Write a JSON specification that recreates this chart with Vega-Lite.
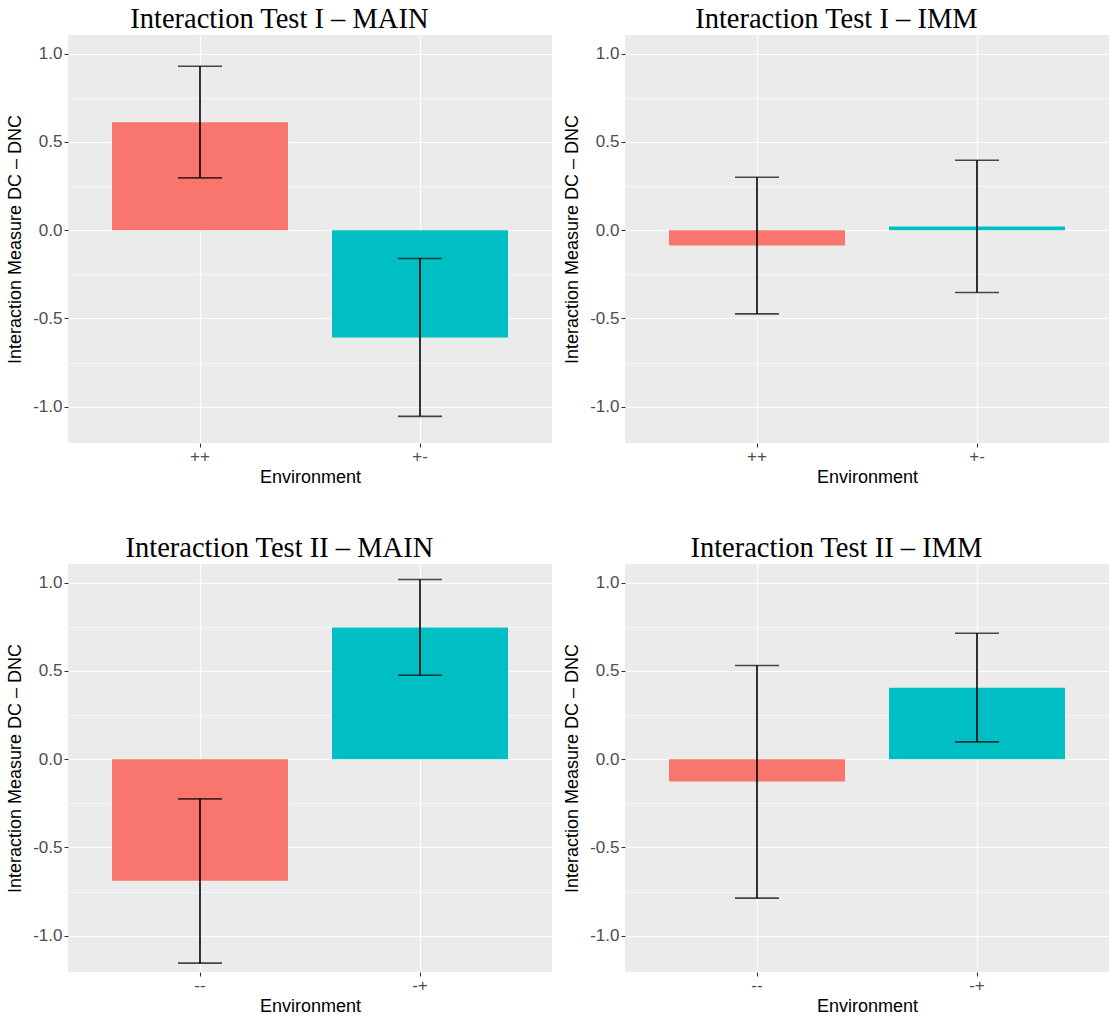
{
  "$schema": "https://vega.github.io/schema/vega-lite/v6.json",
  "background": "white",
  "padding": {"left": 6, "top": 4, "right": 0, "bottom": 0},
  "data": {"values": [
    {"panel": "I-MAIN", "Environment": "++", "value": 0.611, "lower": 0.296, "upper": 0.928},
    {"panel": "I-MAIN", "Environment": "+-", "value": -0.607, "lower": -1.054, "upper": -0.160},
    {"panel": "I-IMM", "Environment": "++", "value": -0.087, "lower": -0.474, "upper": 0.300},
    {"panel": "I-IMM", "Environment": "+-", "value": 0.021, "lower": -0.353, "upper": 0.396},
    {"panel": "II-MAIN", "Environment": "--", "value": -0.689, "lower": -1.155, "upper": -0.225},
    {"panel": "II-MAIN", "Environment": "-+", "value": 0.745, "lower": 0.475, "upper": 1.017},
    {"panel": "II-IMM", "Environment": "--", "value": -0.126, "lower": -0.787, "upper": 0.530},
    {"panel": "II-IMM", "Environment": "-+", "value": 0.404, "lower": 0.098, "upper": 0.713}
  ]},
  "config": {
    "view": {"fill": "#EBEBEB", "stroke": null},
    "axis": {
      "domain": false,
      "gridColor": "#FFFFFF",
      "gridWidth": 1.2,
      "tickColor": "#333333",
      "tickSize": 4,
      "tickWidth": 1.1,
      "labelFont": "Liberation Sans",
      "labelFontSize": 17,
      "labelColor": "#4D4D4D",
      "labelPadding": 2,
      "titleFont": "Liberation Sans",
      "titleFontSize": 18,
      "titleFontWeight": "normal",
      "titleColor": "#000000"
    },
    "title": {"font": "Liberation Serif", "fontSize": 28.5, "fontWeight": "normal", "color": "#000000", "anchor": "middle", "frame": "bounds", "offset": 2}
  },
  "spacing": 47,
  "resolve": {"scale": {"x": "independent"}},
  "vconcat": [
    {
      "spacing": 11,
      "hconcat": [
        {
          "title": "Interaction Test I – MAIN",
          "width": 484, "height": 408,
          "transform": [{"filter": "datum.panel == 'I-MAIN'"}],
          "encoding": {
            "x": {"field": "Environment", "type": "nominal", "sort": ["++", "+-"],
                  "scale": {"paddingInner": 0.2, "paddingOuter": 0.2},
                  "axis": {"labelAngle": 0, "grid": true, "bandPosition": 0.5, "labelPadding": 1, "titlePadding": 4}}
          },
          "layer": [
            {"mark": {"type": "bar"},
             "encoding": {
               "y": {"field": "value", "type": "quantitative", "title": "Interaction Measure  DC – DNC",
                     "scale": {"domain": [-1.205, 1.105], "nice": false, "zero": false},
                     "axis": {"values": [-1, -0.75, -0.5, -0.25, 0, 0.25, 0.5, 0.75, 1],
                              "labelExpr": "abs(round(datum.value*4)) % 2 == 1 ? '' : (datum.value < 0 ? '-' : '') + format(abs(datum.value), '.1f')",
                              "gridWidth": {"condition": {"test": "abs(round(datum.value*4)) % 2 == 1", "value": 0.6}, "value": 1.2},
                              "tickOpacity": {"condition": {"test": "abs(round(datum.value*4)) % 2 == 1", "value": 0}, "value": 1},
                              "titlePadding": 8}},
               "color": {"field": "Environment", "type": "nominal", "legend": null,
                         "scale": {"domain": ["++", "+-", "--", "-+"], "range": ["#F8766D", "#00BFC4", "#F8766D", "#00BFC4"]}}
             }},
            {"mark": {"type": "rule", "color": "#000000", "strokeWidth": 1.6},
             "encoding": {"y": {"field": "lower", "type": "quantitative"}, "y2": {"field": "upper"}}},
            {"mark": {"type": "tick", "color": "#000000", "size": 44, "thickness": 1.6},
             "encoding": {"y": {"field": "lower", "type": "quantitative"}}},
            {"mark": {"type": "tick", "color": "#000000", "size": 44, "thickness": 1.6},
             "encoding": {"y": {"field": "upper", "type": "quantitative"}}}
          ]
        },
        {
          "title": "Interaction Test I – IMM",
          "width": 484, "height": 408,
          "transform": [{"filter": "datum.panel == 'I-IMM'"}],
          "encoding": {
            "x": {"field": "Environment", "type": "nominal", "sort": ["++", "+-"],
                  "scale": {"paddingInner": 0.2, "paddingOuter": 0.2},
                  "axis": {"labelAngle": 0, "grid": true, "bandPosition": 0.5, "labelPadding": 1, "titlePadding": 4}}
          },
          "layer": [
            {"mark": {"type": "bar"},
             "encoding": {
               "y": {"field": "value", "type": "quantitative", "title": "Interaction Measure  DC – DNC",
                     "scale": {"domain": [-1.205, 1.105], "nice": false, "zero": false},
                     "axis": {"values": [-1, -0.75, -0.5, -0.25, 0, 0.25, 0.5, 0.75, 1],
                              "labelExpr": "abs(round(datum.value*4)) % 2 == 1 ? '' : (datum.value < 0 ? '-' : '') + format(abs(datum.value), '.1f')",
                              "gridWidth": {"condition": {"test": "abs(round(datum.value*4)) % 2 == 1", "value": 0.6}, "value": 1.2},
                              "tickOpacity": {"condition": {"test": "abs(round(datum.value*4)) % 2 == 1", "value": 0}, "value": 1},
                              "titlePadding": 8}},
               "color": {"field": "Environment", "type": "nominal", "legend": null,
                         "scale": {"domain": ["++", "+-", "--", "-+"], "range": ["#F8766D", "#00BFC4", "#F8766D", "#00BFC4"]}}
             }},
            {"mark": {"type": "rule", "color": "#000000", "strokeWidth": 1.6},
             "encoding": {"y": {"field": "lower", "type": "quantitative"}, "y2": {"field": "upper"}}},
            {"mark": {"type": "tick", "color": "#000000", "size": 44, "thickness": 1.6},
             "encoding": {"y": {"field": "lower", "type": "quantitative"}}},
            {"mark": {"type": "tick", "color": "#000000", "size": 44, "thickness": 1.6},
             "encoding": {"y": {"field": "upper", "type": "quantitative"}}}
          ]
        }
      ]
    },
    {
      "spacing": 11,
      "hconcat": [
        {
          "title": "Interaction Test II – MAIN",
          "width": 484, "height": 408,
          "transform": [{"filter": "datum.panel == 'II-MAIN'"}],
          "encoding": {
            "x": {"field": "Environment", "type": "nominal", "sort": ["--", "-+"],
                  "scale": {"paddingInner": 0.2, "paddingOuter": 0.2},
                  "axis": {"labelAngle": 0, "grid": true, "bandPosition": 0.5, "labelPadding": 1, "titlePadding": 4}}
          },
          "layer": [
            {"mark": {"type": "bar"},
             "encoding": {
               "y": {"field": "value", "type": "quantitative", "title": "Interaction Measure  DC – DNC",
                     "scale": {"domain": [-1.205, 1.105], "nice": false, "zero": false},
                     "axis": {"values": [-1, -0.75, -0.5, -0.25, 0, 0.25, 0.5, 0.75, 1],
                              "labelExpr": "abs(round(datum.value*4)) % 2 == 1 ? '' : (datum.value < 0 ? '-' : '') + format(abs(datum.value), '.1f')",
                              "gridWidth": {"condition": {"test": "abs(round(datum.value*4)) % 2 == 1", "value": 0.6}, "value": 1.2},
                              "tickOpacity": {"condition": {"test": "abs(round(datum.value*4)) % 2 == 1", "value": 0}, "value": 1},
                              "titlePadding": 8}},
               "color": {"field": "Environment", "type": "nominal", "legend": null,
                         "scale": {"domain": ["++", "+-", "--", "-+"], "range": ["#F8766D", "#00BFC4", "#F8766D", "#00BFC4"]}}
             }},
            {"mark": {"type": "rule", "color": "#000000", "strokeWidth": 1.6},
             "encoding": {"y": {"field": "lower", "type": "quantitative"}, "y2": {"field": "upper"}}},
            {"mark": {"type": "tick", "color": "#000000", "size": 44, "thickness": 1.6},
             "encoding": {"y": {"field": "lower", "type": "quantitative"}}},
            {"mark": {"type": "tick", "color": "#000000", "size": 44, "thickness": 1.6},
             "encoding": {"y": {"field": "upper", "type": "quantitative"}}}
          ]
        },
        {
          "title": "Interaction Test II – IMM",
          "width": 484, "height": 408,
          "transform": [{"filter": "datum.panel == 'II-IMM'"}],
          "encoding": {
            "x": {"field": "Environment", "type": "nominal", "sort": ["--", "-+"],
                  "scale": {"paddingInner": 0.2, "paddingOuter": 0.2},
                  "axis": {"labelAngle": 0, "grid": true, "bandPosition": 0.5, "labelPadding": 1, "titlePadding": 4}}
          },
          "layer": [
            {"mark": {"type": "bar"},
             "encoding": {
               "y": {"field": "value", "type": "quantitative", "title": "Interaction Measure  DC – DNC",
                     "scale": {"domain": [-1.205, 1.105], "nice": false, "zero": false},
                     "axis": {"values": [-1, -0.75, -0.5, -0.25, 0, 0.25, 0.5, 0.75, 1],
                              "labelExpr": "abs(round(datum.value*4)) % 2 == 1 ? '' : (datum.value < 0 ? '-' : '') + format(abs(datum.value), '.1f')",
                              "gridWidth": {"condition": {"test": "abs(round(datum.value*4)) % 2 == 1", "value": 0.6}, "value": 1.2},
                              "tickOpacity": {"condition": {"test": "abs(round(datum.value*4)) % 2 == 1", "value": 0}, "value": 1},
                              "titlePadding": 8}},
               "color": {"field": "Environment", "type": "nominal", "legend": null,
                         "scale": {"domain": ["++", "+-", "--", "-+"], "range": ["#F8766D", "#00BFC4", "#F8766D", "#00BFC4"]}}
             }},
            {"mark": {"type": "rule", "color": "#000000", "strokeWidth": 1.6},
             "encoding": {"y": {"field": "lower", "type": "quantitative"}, "y2": {"field": "upper"}}},
            {"mark": {"type": "tick", "color": "#000000", "size": 44, "thickness": 1.6},
             "encoding": {"y": {"field": "lower", "type": "quantitative"}}},
            {"mark": {"type": "tick", "color": "#000000", "size": 44, "thickness": 1.6},
             "encoding": {"y": {"field": "upper", "type": "quantitative"}}}
          ]
        }
      ]
    }
  ]
}
